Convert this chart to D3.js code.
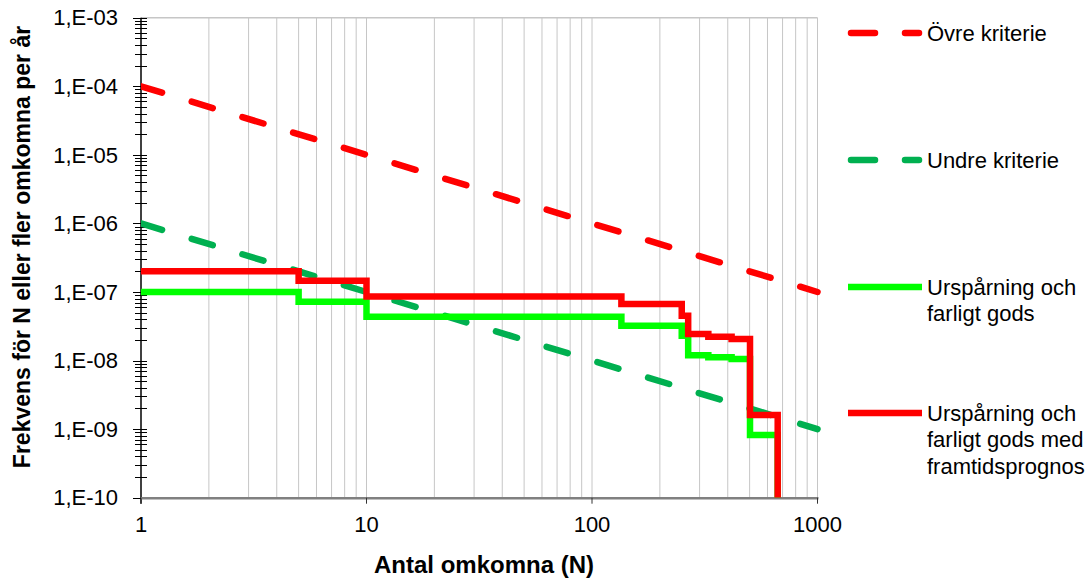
<!DOCTYPE html>
<html>
<head>
<meta charset="utf-8">
<script src="https://cdn.jsdelivr.net/npm/d3@7"></script>
<style>
  html, body { margin: 0; padding: 0; background: #fff; }
  svg { display: block; font-family: "Liberation Sans", Arial, sans-serif; }
</style>
</head>
<body>
<svg id="chart" width="1092" height="583"></svg>
<script>
// F/N curve: frequency of N or more fatalities per year

// Criteria lines (endpoints at N = 1 and N = 1000)
const criteriaN = [1, 1000];
const upperCriterion = [1e-4, 1e-7];   // Övre kriterie
const lowerCriterion = [1e-6, 1e-9];   // Undre kriterie

// Step curve: derailment and dangerous goods
const baseN = [1, 5, 10, 135, 250, 267, 328, 416, 502, 666];
const baseF = [1.0e-7, 7.2e-8, 4.36e-8, 3.22e-8, 2.3e-8, 1.2e-8, 1.12e-8, 1.05e-8, 8.2e-10, 1e-10];

// Step curve: derailment and dangerous goods with future forecast
const futureN = [1, 5, 10, 135, 250, 267, 328, 416, 502, 666];
const futureF = [2.0e-7, 1.46e-7, 8.6e-8, 6.7e-8, 4.5e-8, 2.44e-8, 2.23e-8, 2.06e-8, 1.61e-9, 1e-10];

// Axis ticks and labels
const xTickValues = [1, 10, 100, 1000];
const xTickLabels = ["1", "10", "100", "1000"];
const yTickValues = [1e-3, 1e-4, 1e-5, 1e-6, 1e-7, 1e-8, 1e-9, 1e-10];
const yTickLabels = ["1,E-03", "1,E-04", "1,E-05", "1,E-06", "1,E-07", "1,E-08", "1,E-09", "1,E-10"];

const legendItems = [
  { lines: ["Övre kriterie"], color: "#FF0000", dashed: true },
  { lines: ["Undre kriterie"], color: "#00B050", dashed: true },
  { lines: ["Urspårning och", "farligt gods"], color: "#00FF00", dashed: false },
  { lines: ["Urspårning och", "farligt gods med", "framtidsprognos"], color: "#FF0000", dashed: false }
];

const svg = d3.select("#chart");
const plotLeft = 141, plotRight = 817.5, plotTop = 17.7, plotBottom = 497.7;

const x = d3.scaleLog().domain([1, 1000]).range([plotLeft, plotRight]);
const y = d3.scaleLog().domain([1e-10, 1e-3]).range([plotBottom, plotTop]);

// Vertical grid lines at every log tick
const grid = svg.append("g");
grid.selectAll("line.v")
  .data(x.ticks().filter(d => d > 1))
  .enter().append("line")
  .attr("x1", d => x(d)).attr("x2", d => x(d))
  .attr("y1", plotTop).attr("y2", plotBottom)
  .attr("stroke", "#c6c6c6").attr("stroke-width", 1);
grid.append("line")
  .attr("x1", plotLeft).attr("x2", plotRight)
  .attr("y1", y(1e-3)).attr("y2", y(1e-3))
  .attr("stroke", "#c6c6c6").attr("stroke-width", 1.5);

// Y axis: line, major and minor ticks
const yAxis = svg.append("g");
const yMinor = [];
for (let e = -10; e < -3; e++) {
  for (let m = 1; m <= 9; m++) yMinor.push(m * Math.pow(10, e));
}
yMinor.push(1e-3);
yAxis.selectAll("line.minor")
  .data(yMinor)
  .enter().append("line")
  .attr("x1", plotLeft - 6).attr("x2", plotLeft + 6)
  .attr("y1", d => Math.round(y(d)) + 0.5).attr("y2", d => Math.round(y(d)) + 0.5)
  .attr("stroke", "#000").attr("stroke-width", 1);
yAxis.selectAll("line.major")
  .data(yTickValues)
  .enter().append("line")
  .attr("x1", plotLeft - 8).attr("x2", plotLeft + 6)
  .attr("y1", d => Math.round(y(d)) + 0.5).attr("y2", d => Math.round(y(d)) + 0.5)
  .attr("stroke", "#000").attr("stroke-width", 1);
yAxis.append("line")
  .attr("x1", plotLeft).attr("x2", plotLeft)
  .attr("y1", plotTop).attr("y2", plotBottom + 6)
  .attr("stroke", "#000").attr("stroke-width", 1.5);
yAxis.selectAll("text")
  .data(yTickValues)
  .enter().append("text")
  .attr("x", 118).attr("y", d => y(d))
  .attr("dy", "0.35em")
  .attr("text-anchor", "end")
  .attr("font-size", 22)
  .attr("fill", "#000")
  .text((d, i) => yTickLabels[i]);

// X axis
const xAxis = svg.append("g");
xAxis.append("line")
  .attr("x1", plotLeft).attr("x2", plotRight + 1)
  .attr("y1", plotBottom + 0.5).attr("y2", plotBottom + 0.5)
  .attr("stroke", "#808080").attr("stroke-width", 2.5);
xAxis.selectAll("line.tick")
  .data(xTickValues)
  .enter().append("line")
  .attr("x1", d => x(d)).attr("x2", d => x(d))
  .attr("y1", plotBottom).attr("y2", plotBottom + 6)
  .attr("stroke", "#333").attr("stroke-width", 1);
xAxis.selectAll("text")
  .data(xTickValues)
  .enter().append("text")
  .attr("x", d => x(d)).attr("y", 532)
  .attr("text-anchor", "middle")
  .attr("font-size", 22)
  .attr("fill", "#000")
  .text((d, i) => xTickLabels[i]);

// Axis titles
svg.append("text")
  .attr("x", 484).attr("y", 573)
  .attr("text-anchor", "middle")
  .attr("font-size", 24).attr("font-weight", "bold")
  .text("Antal omkomna (N)");
svg.append("text")
  .attr("transform", "translate(30,247) rotate(-90)")
  .attr("text-anchor", "middle")
  .attr("font-size", 23).attr("font-weight", "bold")
  .text("Frekvens för N eller fler omkomna per år");

// Plot clip
svg.append("clipPath").attr("id", "plot")
  .append("rect").attr("x", plotLeft).attr("y", plotTop - 10)
  .attr("width", plotRight - plotLeft + 10).attr("height", plotBottom - plotTop + 10);

const plot = svg.append("g").attr("clip-path", "url(#plot)");

const straight = d3.line().x(d => x(d[0])).y(d => y(d[1]));
const step = d3.line().x(d => x(d[0])).y(d => y(d[1])).curve(d3.curveStepAfter);

const dash = "22,31";

plot.append("path")
  .datum(criteriaN.map((n, i) => [n, upperCriterion[i]]))
  .attr("d", straight)
  .attr("fill", "none").attr("stroke", "#FF0000")
  .attr("stroke-width", 6.5).attr("stroke-linecap", "round")
  .attr("stroke-dasharray", dash);

plot.append("path")
  .datum(criteriaN.map((n, i) => [n, lowerCriterion[i]]))
  .attr("d", straight)
  .attr("fill", "none").attr("stroke", "#00B050")
  .attr("stroke-width", 6.5).attr("stroke-linecap", "round")
  .attr("stroke-dasharray", dash);

plot.append("path")
  .datum(baseN.map((n, i) => [n, baseF[i]]))
  .attr("d", step)
  .attr("fill", "none").attr("stroke", "#00FF00")
  .attr("stroke-width", 6.5).attr("stroke-linejoin", "miter");

plot.append("path")
  .datum(futureN.map((n, i) => [n, futureF[i]]))
  .attr("d", step)
  .attr("fill", "none").attr("stroke", "#FF0000")
  .attr("stroke-width", 6.5).attr("stroke-linejoin", "miter");

// Legend
const legendY = [33, 160, 287, 413];
const legend = svg.append("g");
legendItems.forEach((item, i) => {
  const g = legend.append("g").attr("transform", `translate(0,${legendY[i]})`);
  g.append("line")
    .attr("x1", item.dashed ? 851 : 848).attr("x2", item.dashed ? 919 : 922)
    .attr("y1", 0).attr("y2", 0)
    .attr("stroke", item.color).attr("stroke-width", 6.5)
    .attr("stroke-linecap", item.dashed ? "round" : "butt")
    .attr("stroke-dasharray", item.dashed ? "24,30" : null);
  const t = g.append("text")
    .attr("x", 927).attr("y", 0)
    .attr("font-size", 22).attr("fill", "#000");
  item.lines.forEach((line, j) => {
    t.append("tspan").attr("x", 927).attr("dy", j === 0 ? "0.35em" : 26.5).text(line);
  });
});
</script>
</body>
</html>
